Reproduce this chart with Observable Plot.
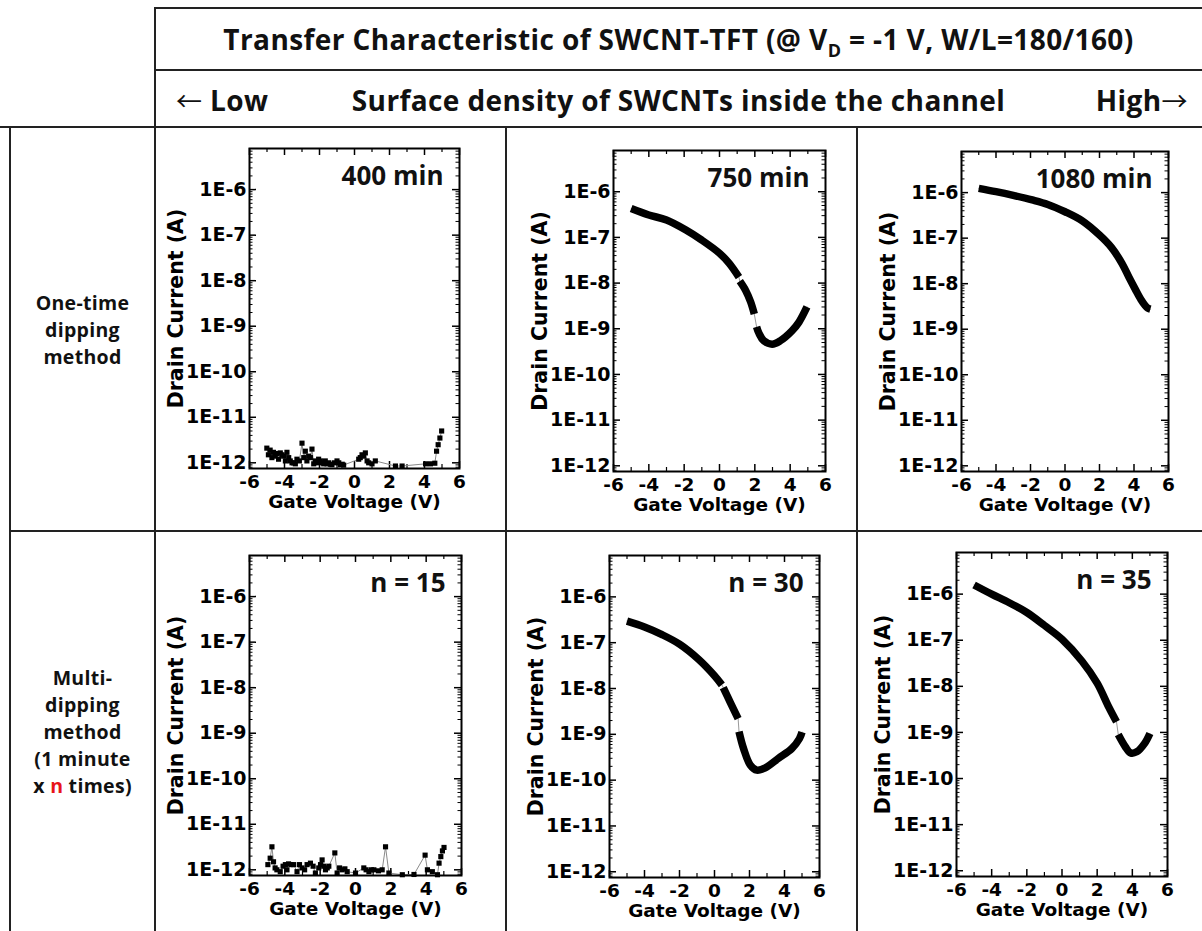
<!DOCTYPE html>
<html><head><meta charset="utf-8">
<script src="https://cdn.jsdelivr.net/npm/d3@7"></script>
<script src="https://cdn.jsdelivr.net/npm/@observablehq/plot@0.6"></script>
<style>
body{margin:0;background:#fff;}
#root{position:relative;width:1202px;height:931px;overflow:hidden;font-family:"Open Sans",sans-serif;font-weight:700;color:#111;background:#fff;}
.hl{position:absolute;height:2px;background:#222;}
.vl{position:absolute;width:2px;background:#222;}
.txt{position:absolute;white-space:nowrap;font-size:28px;line-height:28px;letter-spacing:0.4px;}
.arr{font-family:"Noto Sans CJK KR",sans-serif;font-weight:400;font-size:26px;}
.row{position:absolute;display:flex;align-items:center;justify-content:center;}
.row > div{text-align:center;font-size:19.5px;line-height:27px;letter-spacing:0.3px;}
.panel{position:absolute;}
</style></head><body><div id="root">
<div class="hl" style="left:155px;top:7px;width:1047px"></div>
<div class="hl" style="left:155px;top:69px;width:1047px"></div>
<div class="hl" style="left:0px;top:126px;width:1202px"></div>
<div class="hl" style="left:10px;top:530px;width:1192px"></div>
<div class="vl" style="left:154px;top:7px;height:924px"></div>
<div class="vl" style="left:9px;top:126px;height:805px"></div>
<div class="vl" style="left:505px;top:126px;height:805px"></div>
<div class="vl" style="left:856px;top:126px;height:805px"></div>
<div class="txt" style="left:155px;width:1047px;top:25px;text-align:center">Transfer Characteristic of SWCNT-TFT (@ V<sub style="font-size:18px;line-height:0">D</sub> = -1 V, W/L=180/160)</div>
<div class="txt" style="left:176px;top:86px"><span class="arr">&larr;</span> Low</div>
<div class="txt" style="left:155px;width:1047px;top:86px;text-align:center">Surface density of SWCNTs inside the channel</div>
<div class="txt" style="right:14px;top:86px">High<span class="arr">&rarr;</span></div>
<div class="row" style="left:10px;top:127px;width:145px;height:404px"><div>One-time<br>dipping<br>method</div></div>
<div class="row" style="left:10px;top:531px;width:145px;height:400px"><div>Multi-<br>dipping<br>method<br>(1 minute<br>x <span style="color:#e8141a">n</span> times)</div></div>
</div>
<script>
// ---- axis ticks ----
const xTicks = [-6, -4, -2, 0, 2, 4, 6];
const xMinor = [-5, -3, -1, 1, 3, 5];
const yDecades = [1e-12, 1e-11, 1e-10, 1e-9, 1e-8, 1e-7, 1e-6];
const yDomain = [7.5e-13, 8e-6];

// ---- One-time dipping: 400 min (noisy) ----
const vg400 = [-5.01,-4.92,-4.82,-4.72,-4.63,-4.53,-4.44,-4.34,-4.24,-4.14,-4.05,-3.95,-3.86,-3.76,-3.67,-3.57,-3.48,-3.38,-3.29,-3.15,-3.0,-2.9,-2.81,-2.72,-2.62,-2.52,-2.43,-2.33,-2.24,-2.14,-2.05,-1.95,-1.86,-1.76,-1.67,-1.57,-1.48,-1.38,-1.29,-1.15,-1.0,-0.9,-0.81,-0.7,-0.62,0.24,0.33,0.43,0.52,0.62,0.72,0.81,1.0,1.19,2.34,2.72,4.06,4.34,4.59,4.69,4.78,4.88,4.98];
const id400 = [2.1e-12,1.5e-12,1.9e-12,1.3e-12,1.7e-12,1.4e-12,1.6e-12,1.2e-12,1.65e-12,1.5e-12,1.4e-12,1.1e-12,1.7e-12,1.3e-12,1.1e-12,1.0e-12,1.0e-12,9.5e-13,1.2e-12,1.1e-12,2.7e-12,1.3e-12,1.8e-12,1.1e-12,1.4e-12,1.3e-12,2.0e-12,9.5e-13,1.1e-12,1.0e-12,1.2e-12,1.1e-12,1.0e-12,9.5e-13,1.1e-12,9.5e-13,1.0e-12,9.3e-13,9.1e-13,1.0e-12,1.1e-12,1.0e-12,9.1e-13,9.3e-13,8.9e-13,1.2e-12,1.3e-12,1.5e-12,1.4e-12,1.65e-12,1.1e-12,1.0e-12,9.5e-13,1.1e-12,8.5e-13,8.5e-13,9.5e-13,9.5e-13,9.8e-13,1.8e-12,2.5e-12,3.5e-12,5.0e-12];

// ---- One-time dipping: 750 min ----
const vg750 = [-5.0,-4.0,-3.0,-1.9,-1.0,0.0,0.55,1.1, 1.15,1.48,1.76,1.97, 2.1,2.23,2.5,2.98,3.45,4.1,4.5,4.95];
const id750 = [4.3e-7,3.1e-7,2.4e-7,1.45e-7,8.7e-8,4.5e-8,2.7e-8,1.35e-8, 1.1e-8,6.9e-9,3.9e-9,2.1e-9, 1.1e-9,8e-10,5.5e-10,4.6e-10,5.5e-10,9e-10,1.4e-9,3e-9];
const seg750 = [0,0,0,0,0,0,0,0, 1,1,1,1, 2,2,2,2,2,2,2,2];

// ---- One-time dipping: 1080 min ----
const vg1080 = [-5.0,-4.0,-3.0,-1.9,-1.0,0.0,1.0,2.0,2.7,3.3,3.7,4.07,4.4,4.65,4.8,4.95];
const id1080 = [1.24e-6,1.05e-6,8.7e-7,6.9e-7,5.5e-7,3.8e-7,2.4e-7,1.17e-7,6.2e-8,2.8e-8,1.4e-8,7.6e-9,4.5e-9,3.3e-9,2.9e-9,2.75e-9];

// ---- Multi-dipping: n = 15 (noisy) ----
const vgN15 = [-4.96,-4.83,-4.73,-4.64,-4.55,-4.45,-4.26,-4.1,-3.97,-3.88,-3.79,-3.65,-3.5,-3.31,-3.17,-3.03,-2.88,-2.74,-2.55,-2.4,-2.27,-2.08,-1.98,-1.89,-1.8,-1.70,-1.6,-1.51,-1.17,-1.04,-0.9,-0.76,-0.6,-0.47,0.0,0.47,0.6,0.76,0.9,1.04,1.3,1.51,1.70,1.89,2.65,3.31,3.94,4.07,4.35,4.64,4.73,4.83,4.92,5.01];
const idN15 = [1.3e-12,1.8e-12,3.2e-12,1.5e-12,1.1e-12,1.0e-12,9.1e-13,1.2e-12,1.3e-12,1.0e-12,1.35e-12,1.3e-12,1.3e-12,9.1e-13,1.3e-12,1.1e-12,1.0e-12,1.3e-12,1.4e-12,1.2e-12,8.5e-13,1.1e-12,1.3e-12,1.65e-12,1.2e-12,1.0e-12,1.1e-12,1.2e-12,2.35e-12,8.5e-13,1.1e-12,1.0e-12,1.05e-12,9.1e-13,8.5e-13,1.1e-12,1.0e-12,9.1e-13,1.0e-12,1.0e-12,9.5e-13,1.0e-12,3.2e-12,8.5e-13,7.8e-13,7.9e-13,2.1e-12,1.0e-12,9.1e-13,7.8e-13,1.4e-12,1.95e-12,2.6e-12,3.1e-12];

// ---- Multi-dipping: n = 30 ----
const vgN30 = [-5.0,-4.0,-3.0,-2.0,-0.9,0.0,0.42, 0.5,0.9,1.35, 1.4,1.66,2.04,2.42,2.9,3.66,4.42,4.85,5.0];
const idN30 = [2.95e-7,2.2e-7,1.5e-7,9.3e-8,4.3e-8,1.9e-8,1.2e-8, 1.05e-8,5e-9,2.2e-9, 1.15e-9,4.9e-10,2.15e-10,1.65e-10,1.85e-10,3e-10,4.9e-10,8e-10,1.12e-9];
const segN30 = [0,0,0,0,0,0,0, 1,1,1, 2,2,2,2,2,2,2,2,2];

// ---- Multi-dipping: n = 35 ----
const vgN35 = [-5.0,-4.0,-3.0,-2.0,-1.0,0.0,1.14,2.0,2.65,3.1, 3.2,3.6,3.9,4.25,4.7,5.0];
const idN35 = [1.58e-6,1.0e-6,6.5e-7,4.0e-7,2.1e-7,1.05e-7,3.5e-8,1.17e-8,3.6e-9,1.7e-9, 9e-10,4.9e-10,3.6e-10,3.8e-10,5.8e-10,9.5e-10];
const segN35 = [0,0,0,0,0,0,0,0,0,0, 1,1,1,1,1,1];

const panelLabels = ["400 min", "750 min", "1080 min", "n = 15", "n = 30", "n = 35"];

function rows(vg, id, seg) {
  return vg.map((v, i) => ({vg: v, id: id[i], seg: seg ? seg[i] : 0}));
}

const yMinor = [];
for (const d of [1e-13, ...yDecades]) for (let m = 2; m <= 9; m++) {
  const v = m * d;
  if (v > yDomain[0] && v < yDomain[1]) yMinor.push(v);
}

// layout: frame position of each panel (left, top, width, height)
const panels = [
  {data: rows(vg400, id400), noisy: true, label: panelLabels[0], L: 249, T: 148, w: 210, h: 320},
  {data: rows(vg750, id750, seg750), noisy: false, label: panelLabels[1], L: 613, T: 150, w: 212, h: 321},
  {data: rows(vg1080, id1080), noisy: false, label: panelLabels[2], L: 961, T: 151, w: 207, h: 320},
  {data: rows(vgN15, idN15), noisy: true, label: panelLabels[3], L: 249, T: 555, w: 212, h: 320},
  {data: rows(vgN30, idN30, segN30), noisy: false, label: panelLabels[4], L: 609, T: 555, w: 210, h: 322},
  {data: rows(vgN35, idN35, segN35), noisy: false, label: panelLabels[5], L: 956, T: 552, w: 211, h: 324}
];

const mL = 95, mR = 15, mT = 15, mB = 60;
const root = document.getElementById("root");

for (const p of panels) {
  const {w, h} = p;
  const marks = [];
  // ticks (inward)
  marks.push(Plot.tickY(yDecades, {y: d => d, insetRight: w - 7, stroke: "#000", strokeWidth: 1.5}));
  marks.push(Plot.tickY(yDecades, {y: d => d, insetLeft: w - 7, stroke: "#000", strokeWidth: 1.5}));
  marks.push(Plot.tickY(yMinor, {y: d => d, insetRight: w - 3.5, stroke: "#000", strokeWidth: 1}));
  marks.push(Plot.tickY(yMinor, {y: d => d, insetLeft: w - 3.5, stroke: "#000", strokeWidth: 1}));
  marks.push(Plot.tickX(xTicks, {x: d => d, insetTop: h - 7, stroke: "#000", strokeWidth: 1.5}));
  marks.push(Plot.tickX(xTicks, {x: d => d, insetBottom: h - 7, stroke: "#000", strokeWidth: 1.5}));
  marks.push(Plot.tickX(xMinor, {x: d => d, insetTop: h - 4, stroke: "#000", strokeWidth: 1.2}));
  marks.push(Plot.tickX(xMinor, {x: d => d, insetBottom: h - 4, stroke: "#000", strokeWidth: 1.2}));
  // data
  if (p.noisy) {
    marks.push(Plot.line(p.data, {x: "vg", y: "id", stroke: "#8a8a8a", strokeWidth: 1}));
    marks.push(Plot.dot(p.data, {x: "vg", y: "id", symbol: "square", r: 2.9, fill: "#000", stroke: "none"}));
  } else {
    marks.push(Plot.line(p.data, {x: "vg", y: "id", stroke: "#999", strokeWidth: 1}));
    marks.push(Plot.line(p.data, {x: "vg", y: "id", z: "seg", stroke: "#000", strokeWidth: 7.5, strokeLinecap: "butt", curve: "catmull-rom"}));
  }
  marks.push(Plot.frame({stroke: "#000", strokeWidth: 2}));
  // axes
  marks.push(Plot.axisY({ticks: yDecades, tickSize: 0, tickPadding: 3, tickFormat: d => "1E" + Math.round(Math.log10(d)), label: null, fontSize: 19}));
  marks.push(Plot.axisX({ticks: xTicks, tickSize: 0, tickPadding: 6, tickFormat: d => String(d), label: null, fontSize: 18.5}));
  marks.push(Plot.text(["Drain Current (A)"], {text: d => d, frameAnchor: "left", rotate: -90, dx: -73, textAnchor: "middle", lineAnchor: "middle", fontSize: 20.5}));
  marks.push(Plot.text(["Gate Voltage (V)"], {text: d => d, frameAnchor: "bottom", dy: 34, textAnchor: "middle", lineAnchor: "middle", fontSize: 18.5}));
  marks.push(Plot.text([p.label], {text: d => d, frameAnchor: "top-right", dx: -16, dy: 28, textAnchor: "end", lineAnchor: "middle", fontFamily: "Open Sans", fontWeight: "bold", fontSize: 26, fill: "#111"}));

  const svg = Plot.plot({
    width: mL + w + mR, height: mT + h + mB,
    marginLeft: mL, marginRight: mR, marginTop: mT, marginBottom: mB,
    x: {domain: [-6, 6]},
    y: {type: "log", domain: yDomain},
    style: {fontFamily: "DejaVu Sans", fontWeight: "bold", fontSize: "19px", color: "#000", background: "transparent", overflow: "visible"},
    marks
  });
  const div = document.createElement("div");
  div.className = "panel";
  div.style.left = (p.L - mL) + "px";
  div.style.top = (p.T - mT) + "px";
  div.appendChild(svg);
  root.appendChild(div);
}
</script>
</body></html>
